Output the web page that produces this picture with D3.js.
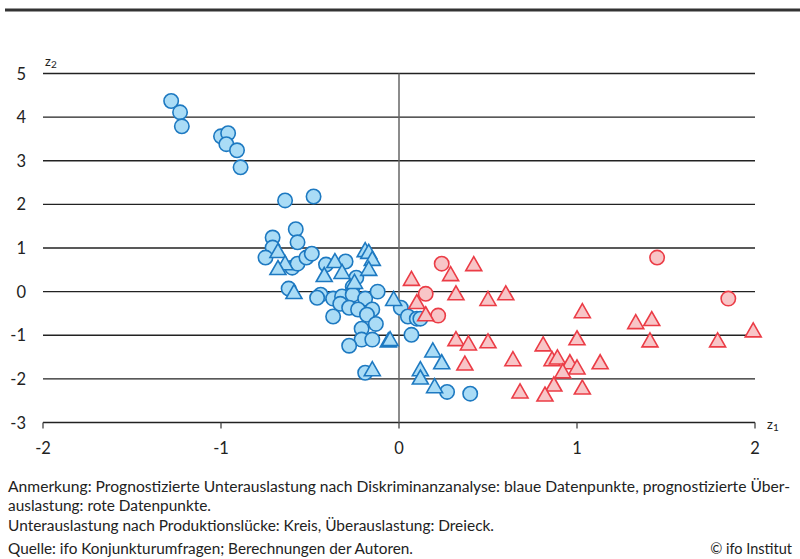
<!DOCTYPE html>
<html>
<head>
<meta charset="utf-8">
<style>
body { margin: 0; background: #fff; }
svg { display: block; }
text { font-family: Lato, "Open Sans", sans-serif; fill: #222; }
</style>
</head>
<body>
<script src="https://cdn.jsdelivr.net/npm/d3@7"></script>
<script>

// z1, z2 pairs
var blueCircles = [
  [-1.28, 4.37], [-1.23, 4.11], [-1.22, 3.79], [-1.00, 3.56], [-0.96, 3.63],
  [-0.97, 3.38], [-0.91, 3.24], [-0.89, 2.85], [-0.64, 2.09], [-0.48, 2.18],
  [-0.58, 1.43], [-0.71, 1.24], [-0.57, 1.13], [-0.71, 1.01], [-0.75, 0.78],
  [-0.60, 0.55], [-0.57, 0.64], [-0.52, 0.78], [-0.49, 0.87], [-0.41, 0.62],
  [-0.30, 0.69], [-0.24, 0.32], [-0.26, 0.11], [-0.62, 0.07], [-0.44, -0.07],
  [-0.46, -0.14], [-0.37, -0.16], [-0.32, -0.11], [-0.26, -0.07], [-0.19, -0.16],
  [-0.12, 0.00], [-0.33, -0.28], [-0.28, -0.37], [-0.23, -0.41], [-0.15, -0.41],
  [-0.18, -0.53], [-0.37, -0.57], [-0.13, -0.74], [-0.21, -0.85], [-0.21, -1.10],
  [-0.15, -1.10], [-0.28, -1.24], [-0.19, -1.86], [0.01, -0.37], [0.05, -0.57],
  [0.10, -0.62], [0.12, -0.62], [0.07, -0.99], [0.27, -2.30], [0.40, -2.34]
];

var blueTriangles = [
  [-0.68, 0.92], [-0.64, 0.64], [-0.68, 0.53], [-0.42, 0.37], [-0.36, 0.69],
  [-0.32, 0.44], [-0.19, 0.94], [-0.17, 0.90], [-0.15, 0.74], [-0.17, 0.51],
  [-0.25, 0.21], [-0.59, -0.02], [-0.03, -0.18], [-0.06, -1.13], [-0.05, -1.10],
  [-0.15, -1.79], [0.19, -1.36], [0.24, -1.63], [0.12, -1.79], [0.12, -1.98],
  [0.20, -2.18]
];

var redCircles = [
  [0.24, 0.64], [0.15, -0.05], [0.22, -0.55], [1.45, 0.78], [1.85, -0.16]
];

var redTriangles = [
  [0.07, 0.28], [0.42, 0.62], [0.29, 0.39], [0.32, -0.05], [0.50, -0.18],
  [0.60, -0.05], [0.10, -0.25], [0.15, -0.53], [0.32, -1.10], [0.39, -1.20],
  [0.50, -1.15], [0.37, -1.66], [0.64, -1.56], [0.81, -1.22], [0.86, -1.56],
  [0.89, -1.52], [0.96, -1.63], [0.92, -1.84], [1.00, -1.75], [0.87, -2.14],
  [0.68, -2.30], [0.82, -2.37], [1.00, -1.08], [1.03, -0.46], [1.33, -0.71],
  [1.42, -0.64], [1.41, -1.13], [1.79, -1.13], [1.99, -0.90], [1.13, -1.63],
  [1.03, -2.21]
];

var xTicks = [-2, -1, 0, 1, 2];
var yTicks = [5, 4, 3, 2, 1, 0, -1, -2, -3];

var notes = [
  "Anmerkung: Prognostizierte Unterauslastung nach  Diskriminanzanalyse: blaue Datenpunkte, prognostizierte Über-",
  "auslastung: rote Datenpunkte.",
  "Unterauslastung nach Produktionslücke: Kreis, Überauslastung: Dreieck.",
  "Quelle: ifo Konjunkturumfragen; Berechnungen der Autoren."
];
var credit = "© ifo Institut";

var width = 800,
    height = 559;

var blue = { fill: "#aadcf6", stroke: "#1d79c1" },
    red = { fill: "#f8c5c7", stroke: "#eb3c46" };

var x = d3.scaleLinear().domain([-2, 2]).range([43, 755]);
var y = d3.scaleLinear().domain([-3, 5]).range([422.5, 73.5]);

var svg = d3.select("body").append("svg")
    .attr("width", width)
    .attr("height", height);

// top rule
svg.append("line")
    .attr("x1", 5).attr("x2", 800)
    .attr("y1", 10).attr("y2", 10)
    .attr("stroke", "#333")
    .attr("stroke-width", 3);

// horizontal grid lines
svg.append("g").selectAll("line")
    .data(yTicks)
  .enter().append("line")
    .attr("x1", x(-2)).attr("x2", x(2))
    .attr("y1", d => y(d)).attr("y2", d => y(d))
    .attr("stroke", "#222")
    .attr("stroke-width", 1.3);

// zero line
svg.append("line")
    .attr("x1", x(0)).attr("x2", x(0))
    .attr("y1", y(5)).attr("y2", y(-3))
    .attr("stroke", "#666")
    .attr("stroke-width", 1.5);

// small ticks below the bottom axis
svg.append("g").selectAll("line")
    .data(xTicks)
  .enter().append("line")
    .attr("x1", d => x(d)).attr("x2", d => x(d))
    .attr("y1", y(-3)).attr("y2", y(-3) + 6)
    .attr("stroke", "#444")
    .attr("stroke-width", 1.3);

// tick labels
svg.append("g").selectAll("text")
    .data(yTicks)
  .enter().append("text")
    .attr("x", 26)
    .attr("y", d => y(d) + 6)
    .attr("text-anchor", "end")
    .style("font-size", "16.5px")
    .text(d => d);

svg.append("g").selectAll("text")
    .data(xTicks)
  .enter().append("text")
    .attr("x", d => x(d))
    .attr("y", 454)
    .attr("text-anchor", "middle")
    .style("font-size", "16.5px")
    .text(d => d);

// axis names
var z2 = svg.append("text").attr("x", 45).attr("y", 66).style("font-size", "13px");
z2.append("tspan").text("z");
z2.append("tspan").attr("dy", 2).style("font-size", "10px").text("2");

var z1 = svg.append("text").attr("x", 767).attr("y", 429).style("font-size", "13px");
z1.append("tspan").text("z");
z1.append("tspan").attr("dy", 2).style("font-size", "10px").text("1");

// marks
function circles(data, c) {
  svg.append("g").selectAll("circle")
      .data(data)
    .enter().append("circle")
      .attr("cx", d => x(d[0]))
      .attr("cy", d => y(d[1]))
      .attr("r", 7.2)
      .attr("fill", c.fill)
      .attr("stroke", c.stroke)
      .attr("stroke-width", 1.6);
}

function triangles(data, c) {
  svg.append("g").selectAll("path")
      .data(data)
    .enter().append("path")
      .attr("d", d => {
        var px = x(d[0]), py = y(d[1]);
        return "M" + px + "," + (py - 8) + "L" + (px + 8) + "," + (py + 6) +
               "L" + (px - 8) + "," + (py + 6) + "Z";
      })
      .attr("fill", c.fill)
      .attr("stroke", c.stroke)
      .attr("stroke-width", 1.6)
      .attr("stroke-linejoin", "miter");
}

circles(blueCircles, blue);
triangles(blueTriangles, blue);
circles(redCircles, red);
triangles(redTriangles, red);

// footer
var noteY = [492, 511, 531, 554],
    noteLen = [782, 203, 486, 405];
svg.append("g").selectAll("text")
    .data(notes)
  .enter().append("text")
    .attr("x", 8)
    .attr("y", (d, i) => noteY[i])
    .attr("textLength", (d, i) => noteLen[i])
    .attr("lengthAdjust", "spacingAndGlyphs")
    .style("font-size", "14.5px")
    .text(d => d);

svg.append("text")
    .attr("x", 792)
    .attr("y", 554)
    .attr("text-anchor", "end")
    .style("font-size", "14.5px")
    .text(credit);

</script>
</body>
</html>
